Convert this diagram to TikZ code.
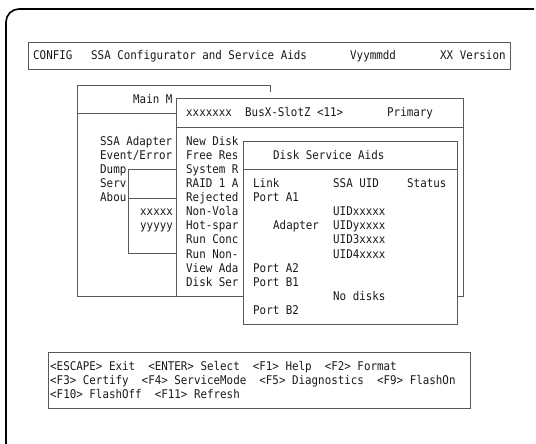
\documentclass[tikz,border=0pt]{standalone}
\usepackage{fontspec}
\newfontfamily\scr[FakeStretch=0.905]{DejaVu Sans Mono}
\tikzset{
  txt/.style={anchor=base west, inner sep=0pt, font=\scr\fontsize{12}{14}\selectfont, text=black!90},
  frame/.style={draw=black!65, line width=0.9pt},
  outer/.style={draw=black, line width=1.6pt, rounded corners=13pt}
}
\begin{document}
\begin{tikzpicture}[x=1pt,y=-1pt]
\useasboundingbox (0,0) rectangle (536,444);
% outer frame
\draw[outer] (6,444) -- (6,9) -- (534,9);
% header
\draw[frame] (28,42) rectangle (510,69);
\node[txt] (h1) at (33,60) {CONFIG};
\node[txt] (h2) at (91,60) {SSA Configurator and Service Aids};
\node[txt] (h3) at (350,60) {Vyymmdd};
\node[txt] (h4) at (440,60) {XX Version};
% main menu box
\draw[frame] (176,296) -- (77,296) -- (77,85) -- (270,85) -- (270,92);
\draw[frame] (77,113) -- (176,113);
\node[txt] (mm) at (133,103) {Main M};
\node[txt] (m1) at (100,145) {SSA Adapter};
\node[txt] (m2) at (100,159) {Event/Error};
\node[txt] (m3) at (100,173) {Dump};
\node[txt] (m4) at (100,187.5) {Serv};
\node[txt] (m5) at (100,201.5) {Abou};
% sub box
\draw[frame] (176,169) -- (128,169) -- (128,253) -- (176,253);
\draw[frame] (128,198) -- (176,198);
\node[txt] (s1) at (140,215.5) {xxxxx};
\node[txt] (s2) at (140,229.5) {yyyyy};
% bus box
\draw[frame] (243,296) -- (176,296) -- (176,98) -- (463,98) -- (463,296) -- (457,296);
\draw[frame] (176,127) -- (463,127);
\node[txt] (b0) at (186,117) {xxxxxxx};
\node[txt] (b0a) at (245,117) {BusX-SlotZ <11>};
\node[txt] (b0b) at (387,117) {Primary};
\node[txt] (b1) at (186,145) {New Disk};
\node[txt] (b2) at (186,159) {Free Res};
\node[txt] (b3) at (186,173) {System R};
\node[txt] (b4) at (186,187.5) {RAID 1 A};
\node[txt] (b5) at (186,201.5) {Rejected};
\node[txt] (b6) at (186,215.5) {Non-Vola};
\node[txt] (b7) at (186,229.5) {Hot-spar};
\node[txt] (b8) at (186,243.5) {Run Conc};
\node[txt] (b9) at (186,258) {Run Non-};
\node[txt] (b10) at (186,272) {View Ada};
\node[txt] (b11) at (186,286) {Disk Ser};
% disk service aids box
\draw[frame] (243,141) rectangle (457,324);
\draw[frame] (243,169) -- (457,169);
\node[txt] (d0) at (273,159) {Disk Service Aids};
\node[txt] (d1) at (253,187.5) {Link};
\node[txt] (d1a) at (333,187.5) {SSA UID};
\node[txt] (d1b) at (407,187.5) {Status};
\node[txt] (d2) at (253,201.5) {Port A1};
\node[txt] (d3) at (333,215.5) {UIDxxxxx};
\node[txt] (d4) at (273,229.5) {Adapter};
\node[txt] (d4a) at (333,229.5) {UIDyxxxx};
\node[txt] (d5) at (333,243.5) {UID3xxxx};
\node[txt] (d6) at (333,258) {UID4xxxx};
\node[txt] (d7) at (253,272) {Port A2};
\node[txt] (d8) at (253,286) {Port B1};
\node[txt] (d9) at (333,300) {No disks};
\node[txt] (d10) at (253,314) {Port B2};
% bottom key bar
\draw[frame] (48,352) rectangle (470,408);
\node[txt] (k1) at (50,370) {<ESCAPE> Exit~~<ENTER> Select~~<F1> Help~~<F2> Format};
\node[txt] (k2) at (50,384) {<F3> Certify~~<F4> ServiceMode~~<F5> Diagnostics~~<F9> FlashOn};
\node[txt] (k3) at (50,398) {<F10> FlashOff~~<F11> Refresh};
\end{tikzpicture}
\end{document}
